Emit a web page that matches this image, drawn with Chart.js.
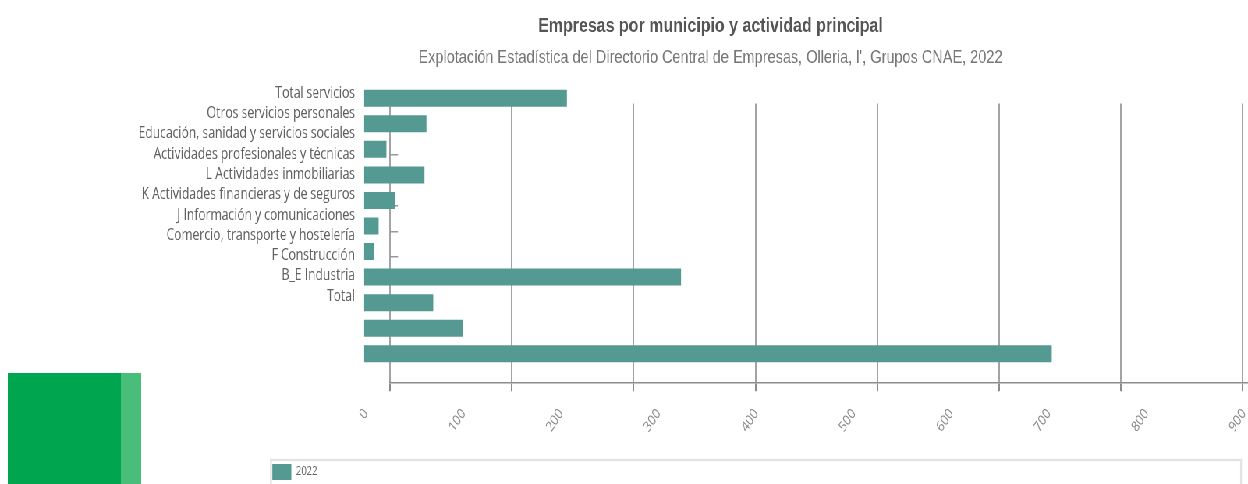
<!DOCTYPE html>
<html>
<head>
<meta charset="utf-8">
<script src="https://cdn.jsdelivr.net/npm/chart.js@4.4.1/dist/chart.umd.min.js"></script>
<style>
  body { margin:0; background:#fff; }
  #wrap { position:relative; width:1248px; height:484px; overflow:hidden; }
  #plot { position:absolute; left:0; top:0; transform-origin:0 0; }
  #plot canvas { position:absolute; left:0; top:0; }
  .logo { position:absolute; top:373px; height:111px; }
</style>
</head>
<body>
<div id="wrap">
  <div class="logo" style="left:8px;width:113px;background:#00a54f"></div>
  <div class="logo" style="left:121px;width:20px;background:#48be7a"></div>
  <div id="plot">
    <canvas id="frame"></canvas>
    <canvas id="bars"></canvas>
  </div>
</div>
<script>
const categories = [
  'Total servicios',
  'Otros servicios personales',
  'Educación, sanidad y servicios sociales',
  'Actividades profesionales y técnicas',
  'L Actividades inmobiliarias',
  'K Actividades financieras y de seguros',
  'J Información y comunicaciones',
  'Comercio, transporte y hostelería',
  'F Construcción',
  'B_E Industria',
  'Total'
];
const values2022 = [208, 64, 23, 62, 32, 15, 10, 325, 71, 101, 705];
const valueTicks = [0, 100, 200, 300, 400, 500, 600, 700, 800, 900];
const gridTicks = [0, 100, 200, 300, 400, 500, 600, 700];
const seriesLabel = '2022';
const titleText = 'Empresas por municipio y actividad principal';
const subtitleText = "Explotación Estadística del Directorio Central de Empresas, Olleria, l', Grupos CNAE, 2022";

// the original picture is squeezed sideways; draw wide and compress
const SX = 0.78;
const W = Math.round(1248 / SX), H = 484;
const px = v => v / SX;   // page x -> canvas x

const plot = document.getElementById('plot');
plot.style.width = W + 'px'; plot.style.height = H + 'px';
plot.style.transform = `scaleX(${SX})`;
for (const id of ['frame', 'bars']) {
  const c = document.getElementById(id); c.width = W; c.height = H;
}

const SANS = "'Liberation Sans', Arial, sans-serif";
const OPEN = "'Open Sans', 'Noto Sans', sans-serif";
const TEAL = '#549a92';

const fixRange = (min, max) => s => { s.min = min; s.max = max; };

// frame: title, grid lines and axis line
new Chart(document.getElementById('frame'), {
  type: 'scatter',
  data: { datasets: [] },
  options: {
    responsive: false, animation: false, devicePixelRatio: 1,
    layout: { padding: { left: px(174), right: px(1), top: 0, bottom: 0 } },
    plugins: {
      legend: { display: false }, tooltip: { enabled: false },
      title: { display: true, text: titleText, color: '#555',
        font: { family: SANS, size: 20.5, weight: 'bold', lineHeight: 1.2 }, padding: { top: 14, bottom: 2 } },
      subtitle: { display: true, text: subtitleText, color: '#777',
        font: { family: SANS, size: 18.6, lineHeight: 1.2 }, padding: { top: 6, bottom: 34.5 } }
    },
    scales: {
      x: {
        type: 'linear', min: 0, max: 703.5,
        afterBuildTicks: s => { s.ticks = gridTicks.map(v => ({ value: v })); s.min = 0; s.max = 703.5; },
        afterFit: s => { s.height = 484 - 382.3; },
        ticks: { display: false },
        grid: { color: '#a3a3a3', lineWidth: 2, tickLength: 9, tickColor: '#8c8c8c' },
        border: { display: true, color: '#8c8c8c', width: 1.5 }
      },
      y: {
        type: 'linear', min: 0, max: 1,
        afterFit: s => { s.width = px(216); },
        ticks: { display: false }, grid: { display: false }, border: { display: false }
      }
    }
  }
});

// legend box outline
const legendBox = {
  id: 'legendBox',
  afterDraw(chart) {
    const l = chart.legend; if (!l) return;
    const ctx = chart.ctx;
    ctx.save(); ctx.strokeStyle = '#e3e3e3'; ctx.lineWidth = 2.4;
    ctx.strokeRect(l.left + 1.2, l.top - 1, l.width - 2.4, l.height + 6);
    ctx.restore();
  }
};

// bars, labels and legend
new Chart(document.getElementById('bars'), {
  type: 'bar',
  data: {
    labels: categories,
    datasets: [{ label: seriesLabel, data: values2022, backgroundColor: TEAL, borderWidth: 0,
      barPercentage: 0.666, categoryPercentage: 1.0 }]
  },
  plugins: [legendBox],
  options: {
    indexAxis: 'y', responsive: false, animation: false, devicePixelRatio: 1,
    layout: { padding: { left: px(270), right: px(6), top: 85.5, bottom: -6 } },
    plugins: {
      tooltip: { enabled: false },
      legend: { position: 'bottom', align: 'start',
        labels: { boxWidth: px(19), boxHeight: 16, padding: 3, color: '#666', font: { family: OPEN, size: 12 } } }
    },
    scales: {
      x: {
        type: 'linear', min: 0, max: 900,
        afterBuildTicks: s => { s.ticks = valueTicks.map(v => ({ value: v })); s.min = 0; s.max = 900; },
        afterFit: s => {
          const lg = s.chart.legend ? s.chart.legend.height : 30;
          s.height = 484 + 6 - lg - 366.5; s.paddingLeft = 0; s.paddingRight = 0;
        },
        grid: { display: false }, border: { display: false },
        ticks: { minRotation: 50, maxRotation: 50, padding: 31, labelOffset: px(2), color: '#888',
          font: { family: OPEN, size: 14.5 } }
      },
      y: {
        type: 'category',
        afterFit: s => { s.width = px(94); },
        ticks: { display: false }, grid: { display: false }, border: { display: false }
      },
      yl: {
        type: 'linear', position: { x: -9.2 }, reverse: true, bounds: 'data', offset: false,
        afterBuildTicks: s => { s.ticks = categories.map((c, i) => ({ value: i })); fixRange(-0.384, 13.458)(s); },
        grid: { display: false, offset: false }, border: { display: false },
        ticks: { autoSkip: false, padding: 0, color: '#616161', font: { family: OPEN, size: 15.5 },
          callback: v => categories[v] }
      },
      yt: {
        type: 'linear', position: { x: 26.65 }, reverse: true, bounds: 'data', offset: false,
        afterBuildTicks: s => { s.ticks = categories.map((c, i) => ({ value: i })); fixRange(-0.709, 10.293)(s); },
        ticks: { display: false }, border: { display: false },
        grid: { offset: false, drawOnChartArea: false, tickLength: -px(8), color: '#999', lineWidth: 1.5 }
      }
    }
  }
});
</script>
</body>
</html>
